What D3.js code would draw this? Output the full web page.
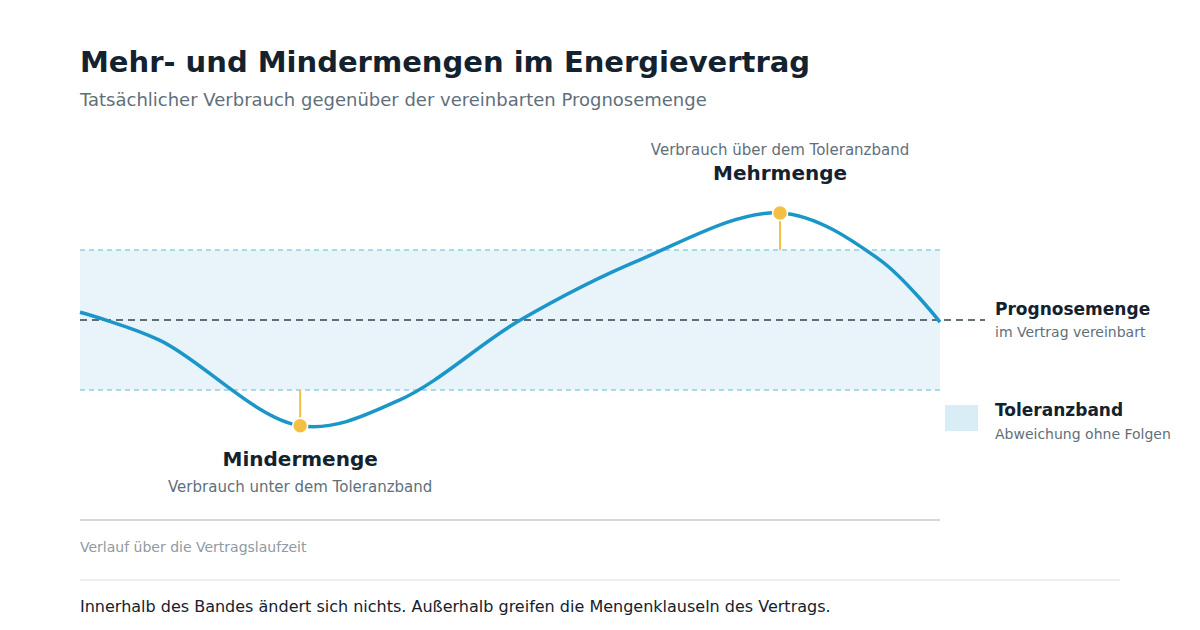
<!DOCTYPE html>
<head>
<meta charset="utf-8">
<style>
  body { margin: 0; background: #fff; font-family: "DejaVu Sans", sans-serif; }
</style>
</head>
<body>
<script src="https://d3js.org/d3.v7.min.js"></script>
<script>
// Verlauf: Anteil der Laufzeit (0..1) und Abweichung von der Prognose (Toleranzband = ±1)
const laufzeit   = [0, 0.093, 0.256, 0.372, 0.512, 0.651, 0.814, 0.93, 1];
const abweichung = [0.11, -0.29, -1.51, -1.14, 0, 0.86, 1.53, 0.86, -0.03];
const band = [-1, 1];
const markierungen = [
  { t: 0.256, v: -1.51, titel: "Mindermenge", text: "Verbrauch unter dem Toleranzband", unten: true },
  { t: 0.814, v: 1.53, titel: "Mehrmenge", text: "Verbrauch über dem Toleranzband", unten: false }
];

const width = 1200, height = 630;
const svg = d3.select("body").append("svg").attr("width", width).attr("height", height);

const x = d3.scaleLinear().domain([0, 1]).range([80, 940]);
const y = d3.scaleLinear().domain([-1, 1]).range([390, 250]);

svg.append("text").attr("x", 80).attr("y", 72).text("Mehr- und Mindermengen im Energievertrag")
  .style("font-size", "29px").style("font-weight", "bold").attr("fill", "#13222e");
svg.append("text").attr("x", 80).attr("y", 106).text("Tatsächlicher Verbrauch gegenüber der vereinbarten Prognosemenge")
  .style("font-size", "18px").attr("fill", "#5f6f7a");

// Toleranzband
svg.append("rect").attr("x", x(0)).attr("y", y(band[1]))
  .attr("width", x(1) - x(0)).attr("height", y(band[0]) - y(band[1]))
  .attr("fill", "#e8f4f9");
svg.selectAll(".bandline").data(band).join("line")
  .attr("x1", x(0)).attr("x2", x(1)).attr("y1", d => y(d)).attr("y2", d => y(d))
  .attr("stroke", "#8fcfe3").attr("stroke-width", 1.5).attr("stroke-dasharray", "5,4");

// Prognose
svg.append("line").attr("x1", x(0)).attr("x2", 985).attr("y1", y(0)).attr("y2", y(0))
  .attr("stroke", "#33404a").attr("stroke-width", 1.5).attr("stroke-dasharray", "7,5");

const line = d3.line().x(d => x(d[0])).y(d => y(d[1])).curve(d3.curveCatmullRom.alpha(0.5));
svg.append("path").datum(d3.zip(laufzeit, abweichung)).attr("d", line)
  .attr("fill", "none").attr("stroke", "#1b96c9").attr("stroke-width", 3.5);

markierungen.forEach(m => {
  const edge = m.unten ? band[0] : band[1];
  svg.append("line").attr("x1", x(m.t)).attr("x2", x(m.t)).attr("y1", y(edge)).attr("y2", y(m.v))
    .attr("stroke", "#f3c044").attr("stroke-width", 2);
  svg.append("circle").attr("cx", x(m.t)).attr("cy", y(m.v)).attr("r", 7.5)
    .attr("fill", "#f3c044").attr("stroke", "#fff").attr("stroke-width", 1.5);
  const g = svg.append("g").attr("text-anchor", "middle");
  if (m.unten) {
    g.append("text").attr("x", x(m.t)).attr("y", y(m.v) + 40).text(m.titel)
      .style("font-size", "20px").style("font-weight", "bold").attr("fill", "#13222e");
    g.append("text").attr("x", x(m.t)).attr("y", y(m.v) + 66).text(m.text)
      .style("font-size", "15px").attr("fill", "#5f6f7a");
  } else {
    g.append("text").attr("x", x(m.t)).attr("y", y(m.v) - 58).text(m.text)
      .style("font-size", "15px").attr("fill", "#5f6f7a");
    g.append("text").attr("x", x(m.t)).attr("y", y(m.v) - 33).text(m.titel)
      .style("font-size", "20px").style("font-weight", "bold").attr("fill", "#13222e");
  }
});

// Legende
svg.append("text").attr("x", 995).attr("y", 315).text("Prognosemenge")
  .style("font-size", "17px").style("font-weight", "bold").attr("fill", "#13222e");
svg.append("text").attr("x", 995).attr("y", 337).text("im Vertrag vereinbart")
  .style("font-size", "14px").attr("fill", "#5f6f7a");
svg.append("rect").attr("x", 945).attr("y", 405).attr("width", 33).attr("height", 26).attr("fill", "#d9edf6");
svg.append("text").attr("x", 995).attr("y", 416).text("Toleranzband")
  .style("font-size", "17px").style("font-weight", "bold").attr("fill", "#13222e");
svg.append("text").attr("x", 995).attr("y", 439).text("Abweichung ohne Folgen")
  .style("font-size", "14px").attr("fill", "#5f6f7a");

// Achse
svg.append("line").attr("x1", x(0)).attr("x2", x(1)).attr("y1", 520).attr("y2", 520)
  .attr("stroke", "#d3d8db").attr("stroke-width", 2);
svg.append("text").attr("x", 80).attr("y", 552).text("Verlauf über die Vertragslaufzeit")
  .style("font-size", "14px").attr("fill", "#8f9aa1");

svg.append("line").attr("x1", 80).attr("x2", 1120).attr("y1", 580).attr("y2", 580)
  .attr("stroke", "#e8eaeb").attr("stroke-width", 1.5);
svg.append("text").attr("x", 80).attr("y", 612).text("Innerhalb des Bandes ändert sich nichts. Außerhalb greifen die Mengenklauseln des Vertrags.")
  .style("font-size", "16px").attr("fill", "#13222e");
</script>
</body>
